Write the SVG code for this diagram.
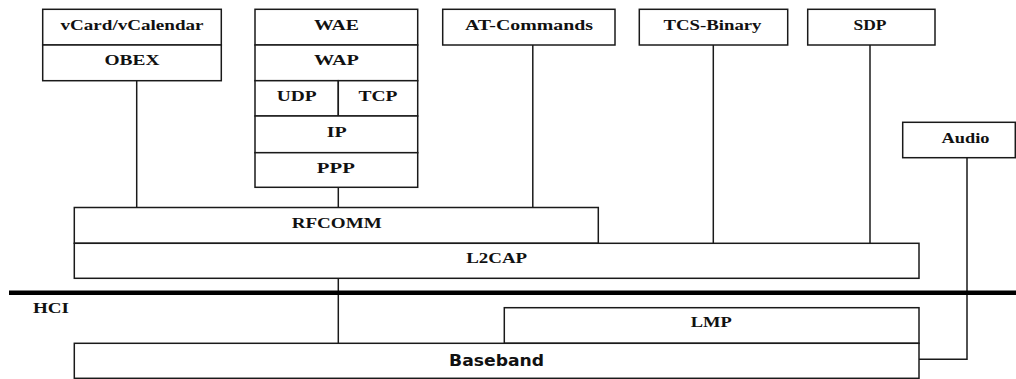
<svg xmlns="http://www.w3.org/2000/svg" width="1016" height="379" viewBox="0 0 1016 379">
<style>
.box{fill:#fff;stroke:#1a1a1a;stroke-width:1.5}
.ln{fill:none;stroke:#1a1a1a;stroke-width:1.5}
.t{font-family:"Liberation Serif","Times New Roman",serif;font-weight:bold;font-size:14px;fill:#111;text-anchor:middle}
.s{font-family:"DejaVu Sans","Liberation Sans",sans-serif;font-weight:bold;font-size:16px;fill:#111;text-anchor:middle}
</style>
<rect width="1016" height="379" fill="#fff"/>
<g id="connectors">
<line class="ln" x1="136.7" y1="80.7" x2="136.7" y2="207.5"/>
<line class="ln" x1="338.3" y1="187.3" x2="338.3" y2="207.5"/>
<line class="ln" x1="532.8" y1="45" x2="532.8" y2="207.5"/>
<line class="ln" x1="713.3" y1="45" x2="713.3" y2="243.3"/>
<line class="ln" x1="870" y1="45" x2="870" y2="243.3"/>
<line class="ln" x1="338.3" y1="278.3" x2="338.3" y2="343.3"/>
<polyline class="ln" points="967,157.7 967,359.3 919,359.3"/>
</g>
<g id="hci">
<line x1="9" y1="292.8" x2="1016" y2="292.8" stroke="#000" stroke-width="4.5"/>
<text class="t" x="33" y="312.7" style="text-anchor:start" textLength="36" lengthAdjust="spacingAndGlyphs">HCI</text>
</g>
<g id="vcard">
<rect class="box" x="42.7" y="9.3" width="178.6" height="35.7"/>
<text class="t" x="132" y="30" textLength="143" lengthAdjust="spacingAndGlyphs">vCard/vCalendar</text>
</g>
<g id="obex">
<rect class="box" x="42.7" y="45" width="178.6" height="35.7"/>
<text class="t" x="132" y="65" textLength="55" lengthAdjust="spacingAndGlyphs">OBEX</text>
</g>
<g id="wae">
<rect class="box" x="255" y="9.3" width="162.7" height="35.7"/>
<text class="t" x="336.5" y="30" textLength="45" lengthAdjust="spacingAndGlyphs">WAE</text>
</g>
<g id="wap">
<rect class="box" x="255" y="45" width="162.7" height="35.7"/>
<text class="t" x="336.5" y="65" textLength="45" lengthAdjust="spacingAndGlyphs">WAP</text>
</g>
<g id="udp">
<rect class="box" x="255" y="80.7" width="83.3" height="35.3"/>
<text class="t" x="296.7" y="101" textLength="40" lengthAdjust="spacingAndGlyphs">UDP</text>
</g>
<g id="tcp">
<rect class="box" x="338.3" y="80.7" width="79.4" height="35.3"/>
<text class="t" x="378" y="101" textLength="39" lengthAdjust="spacingAndGlyphs">TCP</text>
</g>
<g id="ip">
<rect class="box" x="255" y="116" width="162.7" height="36.7"/>
<text class="t" x="336.7" y="137" textLength="20" lengthAdjust="spacingAndGlyphs">IP</text>
</g>
<g id="ppp">
<rect class="box" x="255" y="152.7" width="162.7" height="34.6"/>
<text class="t" x="335.8" y="172.5" textLength="38" lengthAdjust="spacingAndGlyphs">PPP</text>
</g>
<g id="at-commands">
<rect class="box" x="442.7" y="9.3" width="172.3" height="35.7"/>
<text class="t" x="529" y="30" textLength="128" lengthAdjust="spacingAndGlyphs">AT-Commands</text>
</g>
<g id="tcs-binary">
<rect class="box" x="639.3" y="9.3" width="148.4" height="35.7"/>
<text class="t" x="712.5" y="30" textLength="98" lengthAdjust="spacingAndGlyphs">TCS-Binary</text>
</g>
<g id="sdp">
<rect class="box" x="807.7" y="9.3" width="127.3" height="35.7"/>
<text class="t" x="870" y="30" textLength="33" lengthAdjust="spacingAndGlyphs">SDP</text>
</g>
<g id="audio">
<rect class="box" x="902.7" y="122.3" width="112.6" height="35.4"/>
<text class="t" x="965.5" y="142.5" textLength="48" lengthAdjust="spacingAndGlyphs">Audio</text>
</g>
<g id="rfcomm">
<rect class="box" x="74.3" y="207.5" width="524" height="35.8"/>
<text class="t" x="336.7" y="227.5" textLength="90" lengthAdjust="spacingAndGlyphs">RFCOMM</text>
</g>
<g id="l2cap">
<rect class="box" x="74.3" y="243.3" width="844.7" height="35"/>
<text class="t" x="496.7" y="263.3" textLength="61" lengthAdjust="spacingAndGlyphs">L2CAP</text>
</g>
<g id="lmp">
<rect class="box" x="504.3" y="307.7" width="414.7" height="35.6"/>
<text class="t" x="711.2" y="327" textLength="41" lengthAdjust="spacingAndGlyphs">LMP</text>
</g>
<g id="baseband">
<rect class="box" x="74.3" y="343.3" width="844.7" height="35"/>
<text class="s" x="496.6" y="365.7" textLength="95" lengthAdjust="spacingAndGlyphs">Baseband</text>
</g>
</svg>
